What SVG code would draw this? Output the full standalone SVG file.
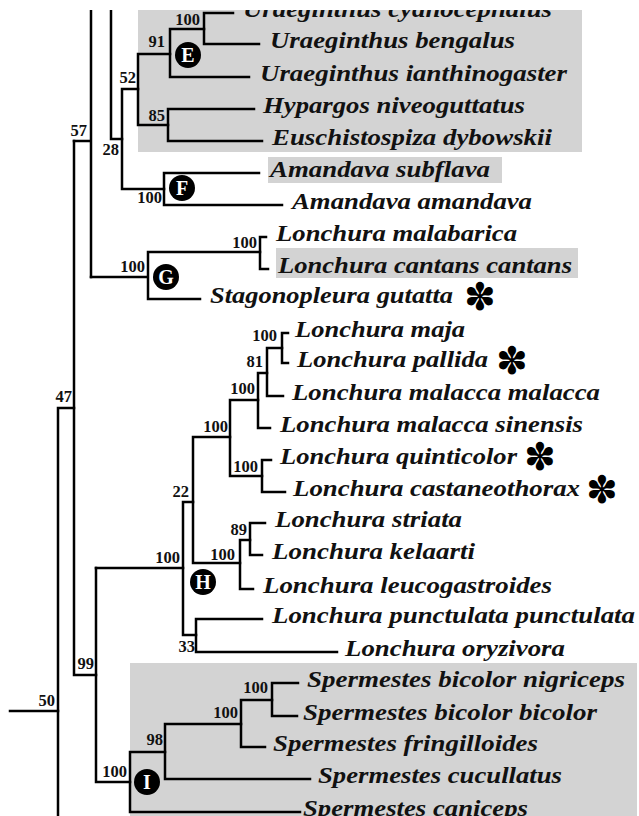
<svg xmlns="http://www.w3.org/2000/svg" width="639" height="816" viewBox="0 0 639 816">
<style>
.bg{fill:#d3d3d3}
.ln{stroke:#000;stroke-width:2.5;fill:none;stroke-linecap:square}
.tx{font-family:"Liberation Serif","Times New Roman",serif;font-weight:bold;font-style:italic;font-size:23px;fill:#111}
.bs{font-family:"Liberation Serif","Times New Roman",serif;font-weight:bold;font-size:16.5px;fill:#111;text-anchor:end}
.cl{fill:#000}
.cx{font-family:"Liberation Serif","Times New Roman",serif;font-weight:bold;font-size:20px;fill:#fff;text-anchor:middle}
.st{font-family:"DejaVu Sans",sans-serif;font-size:38px;fill:#000;text-anchor:middle}
</style>
<rect width="639" height="816" fill="#fff"/>
<g id="highlights">
<rect class="bg" x="138" y="10" width="444" height="142"/>
<rect class="bg" x="268" y="157" width="234" height="26"/>
<rect class="bg" x="276" y="248" width="302" height="30"/>
<rect class="bg" x="130" y="663" width="507" height="153"/>
</g>
<g id="connectors" class="ln">
<path d="M204 13H233M204 44H259M204 13V44"/>
<path d="M170 29H204M170 77H249M170 29V77"/>
<path d="M168 109H254M168 141H262M168 109V141"/>
<path d="M138 54H170M138 125H168M138 54V125"/>
<path d="M164 173H259M164 205H282M164 173V205"/>
<path d="M122 89H138M122 189H164M122 89V189"/>
<path d="M111 139H122M111 10V139"/>
<path d="M91 10V277M74 141H91"/>
<path d="M260 237H266M260 269H268M260 237V269"/>
<path d="M148 252H260M148 299H200M148 252V299M91 277H148"/>
<path d="M282 333H288M282 363H288M282 333V363"/>
<path d="M267 348H282M267 396H283M267 348V396"/>
<path d="M258 373H267M258 428H270M258 373V428"/>
<path d="M262 460H271M262 492H285M262 460V492"/>
<path d="M230 400H258M230 476H262M230 400V476"/>
<path d="M193 437H230M193 563H240M193 437V563"/>
<path d="M250 523H265M250 555H262M250 523V555"/>
<path d="M240 540H250M240 589H253M240 540V589"/>
<path d="M196 619H262M196 652H337M196 619V652"/>
<path d="M183 502H193M183 635H196M183 502V635"/>
<path d="M96 568H183"/>
<path d="M272 683H298M272 716H297M272 683V716"/>
<path d="M241 700H272M241 747H265M241 700V747"/>
<path d="M165 724H241M165 779H310M165 724V779"/>
<path d="M130 752H165M130 812H300M130 752V812"/>
<path d="M96 782H130M96 568V782"/>
<path d="M74 675H96M74 141V675"/>
<path d="M58 408H74M58 408V816"/>
<path d="M10 711H58"/>
</g>
<g id="support">
<text class="bs" x="200" y="25">100</text>
<text class="bs" x="165" y="47">91</text>
<text class="bs" x="136" y="83">52</text>
<text class="bs" x="165" y="121">85</text>
<text class="bs" x="87" y="136">57</text>
<text class="bs" x="119" y="155">28</text>
<text class="bs" x="162" y="203">100</text>
<text class="bs" x="145" y="272">100</text>
<text class="bs" x="257" y="248">100</text>
<text class="bs" x="277" y="341">100</text>
<text class="bs" x="263" y="367">81</text>
<text class="bs" x="255" y="394">100</text>
<text class="bs" x="228" y="432">100</text>
<text class="bs" x="258" y="472">100</text>
<text class="bs" x="189" y="497">22</text>
<text class="bs" x="247" y="535">89</text>
<text class="bs" x="235" y="560">100</text>
<text class="bs" x="180" y="563">100</text>
<text class="bs" x="195" y="652">33</text>
<text class="bs" x="94" y="669">99</text>
<text class="bs" x="268" y="693">100</text>
<text class="bs" x="55" y="706">50</text>
<text class="bs" x="238" y="718">100</text>
<text class="bs" x="163" y="745">98</text>
<text class="bs" x="127" y="777">100</text>
<text class="bs" x="72" y="402">47</text>
</g>
<g id="clade-E"><circle class="cl" cx="188" cy="55" r="13"/><text class="cx" x="188" y="62">E</text></g>
<g id="clade-F"><circle class="cl" cx="182" cy="188" r="13"/><text class="cx" x="182" y="195">F</text></g>
<g id="clade-G"><circle class="cl" cx="166" cy="277" r="13"/><text class="cx" x="166" y="284">G</text></g>
<g id="clade-H"><circle class="cl" cx="203" cy="582" r="13"/><text class="cx" x="203" y="589">H</text></g>
<g id="clade-I"><circle class="cl" cx="147" cy="782" r="13"/><text class="cx" x="147" y="789">I</text></g>
<g id="taxa">
<text class="tx" x="243" y="17" textLength="309" lengthAdjust="spacingAndGlyphs">Uraeginthus cyanocephalus</text>
<text class="tx" x="270" y="48" textLength="245" lengthAdjust="spacingAndGlyphs">Uraeginthus bengalus</text>
<text class="tx" x="260" y="81" textLength="307" lengthAdjust="spacingAndGlyphs">Uraeginthus ianthinogaster</text>
<text class="tx" x="263" y="113" textLength="262" lengthAdjust="spacingAndGlyphs">Hypargos niveoguttatus</text>
<text class="tx" x="272" y="145" textLength="280" lengthAdjust="spacingAndGlyphs">Euschistospiza dybowskii</text>
<text class="tx" x="270" y="177" textLength="220" lengthAdjust="spacingAndGlyphs">Amandava subflava</text>
<text class="tx" x="292" y="209" textLength="240" lengthAdjust="spacingAndGlyphs">Amandava amandava</text>
<text class="tx" x="276" y="241" textLength="241" lengthAdjust="spacingAndGlyphs">Lonchura malabarica</text>
<text class="tx" x="278" y="273" textLength="294" lengthAdjust="spacingAndGlyphs">Lonchura cantans cantans</text>
<text class="tx" x="210" y="303" textLength="243" lengthAdjust="spacingAndGlyphs">Stagonopleura gutatta</text>
<text class="tx" x="295" y="337" textLength="170" lengthAdjust="spacingAndGlyphs">Lonchura maja</text>
<text class="tx" x="297" y="367" textLength="191" lengthAdjust="spacingAndGlyphs">Lonchura pallida</text>
<text class="tx" x="292" y="400" textLength="308" lengthAdjust="spacingAndGlyphs">Lonchura malacca malacca</text>
<text class="tx" x="280" y="432" textLength="303" lengthAdjust="spacingAndGlyphs">Lonchura malacca sinensis</text>
<text class="tx" x="280" y="464" textLength="237" lengthAdjust="spacingAndGlyphs">Lonchura quinticolor</text>
<text class="tx" x="293" y="496" textLength="287" lengthAdjust="spacingAndGlyphs">Lonchura castaneothorax</text>
<text class="tx" x="275" y="527" textLength="187" lengthAdjust="spacingAndGlyphs">Lonchura striata</text>
<text class="tx" x="272" y="559" textLength="203" lengthAdjust="spacingAndGlyphs">Lonchura kelaarti</text>
<text class="tx" x="263" y="593" textLength="289" lengthAdjust="spacingAndGlyphs">Lonchura leucogastroides</text>
<text class="tx" x="272" y="623" textLength="363" lengthAdjust="spacingAndGlyphs">Lonchura punctulata punctulata</text>
<text class="tx" x="345" y="656" textLength="220" lengthAdjust="spacingAndGlyphs">Lonchura oryzivora</text>
<text class="tx" x="307" y="687" textLength="318" lengthAdjust="spacingAndGlyphs">Spermestes bicolor nigriceps</text>
<text class="tx" x="303" y="720" textLength="294" lengthAdjust="spacingAndGlyphs">Spermestes bicolor bicolor</text>
<text class="tx" x="273" y="751" textLength="265" lengthAdjust="spacingAndGlyphs">Spermestes fringilloides</text>
<text class="tx" x="318" y="783" textLength="244" lengthAdjust="spacingAndGlyphs">Spermestes cucullatus</text>
<text class="tx" x="303" y="816" textLength="225" lengthAdjust="spacingAndGlyphs">Spermestes caniceps</text>
</g>
<g id="marks">
<text class="st" x="480" y="310">✽</text>
<text class="st" x="512" y="374">✽</text>
<text class="st" x="540" y="470">✽</text>
<text class="st" x="602" y="503">✽</text>
</g>
<rect x="0" y="0" width="639" height="10" fill="#fff"/>
</svg>
